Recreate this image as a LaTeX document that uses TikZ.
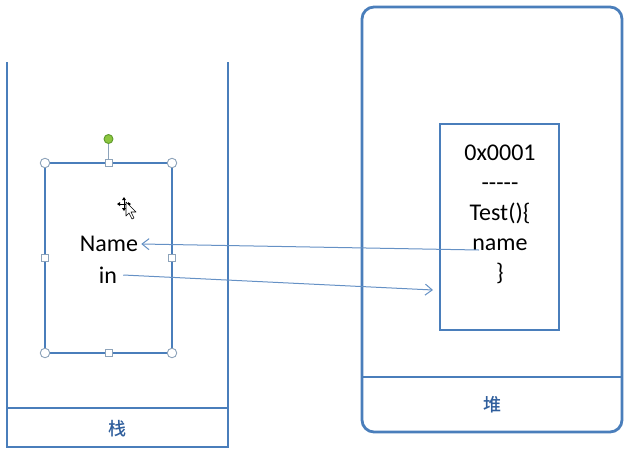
\documentclass[tikz,border=0pt]{standalone}
\usepackage{fontspec}
\setmainfont{Carlito}
\newfontfamily\cjk{Noto Sans CJK SC Medium}
\usetikzlibrary{arrows.meta}
\definecolor{boxblue}{HTML}{4A7EBB}
\definecolor{labelblue}{HTML}{2F5E9C}
\definecolor{handlegray}{HTML}{8DA3BA}
\definecolor{handlegreen}{HTML}{8CC63F}
\definecolor{handlegreendark}{HTML}{5E9A2C}
\tikzset{
  wall/.style={draw=boxblue, line width=2.8pt},
  membox/.style={draw=boxblue, line width=2.8pt},
  codetext/.style={font=\fontsize{24}{30}\selectfont, text=black, inner sep=3pt},
  zonelabel/.style={font=\cjk\fontsize{18}{20}\selectfont, text=labelblue},
  ref/.style={draw=boxblue!85, line width=1pt, -{Straight Barb[length=7pt,width=11pt,line width=1pt]}},
  cornerhandle/.style={circle, draw=handlegray, fill=white, line width=0.9pt, minimum size=9.5pt, inner sep=0pt},
  sidehandle/.style={rectangle, draw=handlegray, fill=white, line width=0.9pt, minimum size=7pt, inner sep=0pt},
  turnhandle/.style={circle, draw=handlegreendark, fill=handlegreen, line width=0.9pt, minimum size=9pt, inner sep=0pt},
}
\begin{document}
\begin{tikzpicture}[x=1pt, y=-1pt]
\useasboundingbox (0,0) rectangle (629,453);

% stack: open-topped container with its label strip
\draw[wall] (7,62) -- (7,447) -- (228,447) -- (228,62);
\draw[wall] (7,408) -- (228,408);
\node[zonelabel] (stackLbl) at (117.5,429) {栈};

% heap: rounded container with its label strip
\draw[wall, rounded corners=12pt] (362,7) rectangle (622,432);
\draw[wall] (362,377) -- (622,377);
\node[zonelabel] (heapLbl) at (492,405) {堆};

% stack frame (shown selected)
\draw[membox] (45,163) rectangle (172,353);
\draw[handlegray, line width=1pt] (108.5,139) -- (108.5,163);
\node[turnhandle] (rot) at (108.5,139) {};
\node[cornerhandle] (h1) at (45,163) {};
\node[cornerhandle] (h2) at (172,163) {};
\node[cornerhandle] (h3) at (45,353) {};
\node[cornerhandle] (h4) at (172,353) {};
\node[sidehandle] (h5) at (108.5,163) {};
\node[sidehandle] (h6) at (108.5,353) {};
\node[sidehandle] (h7) at (45,258) {};
\node[sidehandle] (h8) at (172,258) {};

\node[codetext] (nameLbl) at (109,244) {Name};
\node[codetext] (inLbl) at (108,275) {in};

% heap object
\draw[membox] (440,124) rectangle (559,330);
\node[codetext, align=center, anchor=north] (obj) at (500,142)
  {0x0001\\{-}{-}{-}{-}{-}\\Test()\{\\name\\\}};

% references between stack and heap
\coordinate (nameTail) at (479,250);
\coordinate (objLeft) at (433,290);
\draw[ref] (nameTail) -- (nameLbl.east);
\draw[ref] ([xshift=3pt]inLbl.east) -- (objLeft);

% move cursor
\begin{scope}[shift={(124,204)}, line width=0.6pt]
  \draw (-5,0) -- (5,0);
  \draw (0,-5) -- (0,5);
  \fill (-7,0) -- (-4,-2) -- (-4,2) -- cycle;
  \fill (7,0) -- (4,-2) -- (4,2) -- cycle;
  \fill (0,-7) -- (-2,-4) -- (2,-4) -- cycle;
  \fill (0,7) -- (-2,4) -- (2,4) -- cycle;
\end{scope}
\draw[fill=white, line width=0.6pt, line join=round]
  (126,202) -- (126,216) -- (129,213) -- (132,219) -- (134,218) -- (131,212) -- (136,212) -- cycle;
\end{tikzpicture}
\end{document}
